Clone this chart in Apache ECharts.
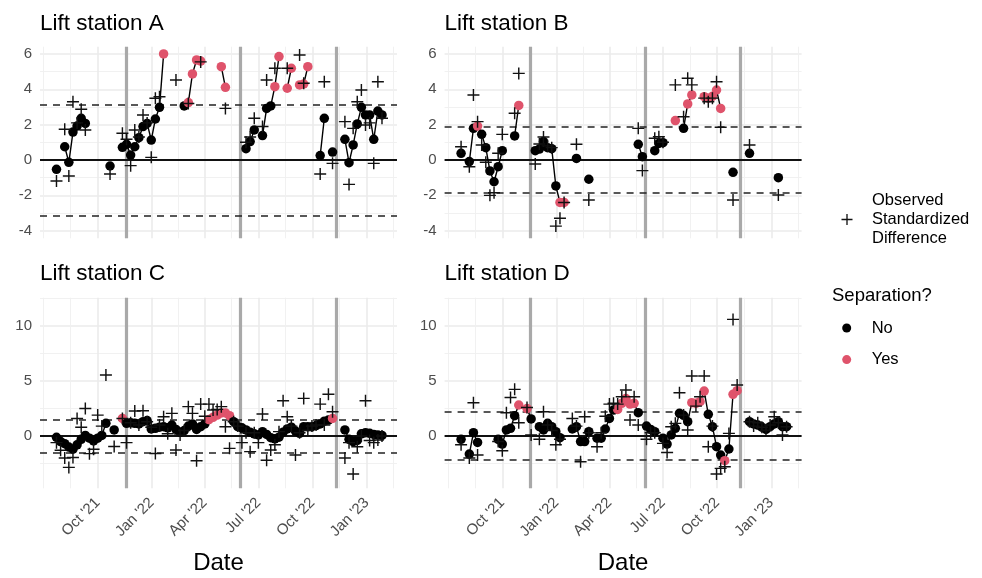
<!DOCTYPE html>
<html>
<head>
<meta charset="utf-8">
<script src="https://cdn.jsdelivr.net/npm/echarts@6/dist/echarts.min.js"></script>
<style>
  html, body { margin: 0; padding: 0; background: #fff; }
  #chart { width: 982px; height: 578px; }
</style>
</head>
<body>
<div id="chart"></div>
<script>
// weekly sampling dates shared by all stations
const weeks = [
  '2021-07-23','2021-07-30','2021-08-06','2021-08-13','2021-08-20','2021-08-27','2021-09-03','2021-09-10','2021-09-17','2021-09-24',
  '2021-10-01','2021-10-08','2021-10-15','2021-10-22','2021-10-29','2021-11-05','2021-11-12','2021-11-19','2021-11-26','2021-12-03',
  '2021-12-10','2021-12-17','2021-12-24','2021-12-31','2022-01-07','2022-01-14','2022-01-21','2022-01-28','2022-02-04','2022-02-11',
  '2022-02-18','2022-02-25','2022-03-04','2022-03-11','2022-03-18','2022-03-25','2022-04-01','2022-04-08','2022-04-15','2022-04-22',
  '2022-04-29','2022-05-06','2022-05-13','2022-05-20','2022-05-27','2022-06-03','2022-06-10','2022-06-17','2022-06-24','2022-07-01',
  '2022-07-08','2022-07-15','2022-07-22','2022-07-29','2022-08-05','2022-08-12','2022-08-19','2022-08-26','2022-09-02','2022-09-09',
  '2022-09-16','2022-09-23','2022-09-30','2022-10-07','2022-10-14','2022-10-21','2022-10-28','2022-11-04','2022-11-11','2022-11-18',
  '2022-11-25','2022-12-02','2022-12-09','2022-12-16','2022-12-23','2022-12-30','2023-01-06','2023-01-13','2023-01-20','2023-01-27'
]

const stations = ['Lift station A', 'Lift station B', 'Lift station C', 'Lift station D']

// modelled difference (dots) per week, null = no estimate
const estA = [
  -0.53, null, 0.75, -0.13, 1.58, 1.92, 2.36, 2.07, null, null,
  null, null, null, -0.34, null, null, 0.72, 0.89, 0.28, 0.75,
  1.26, 1.89, 2.07, 1.13, 2.32, 2.98, 6.0, null, null, null,
  null, 3.06, 3.25, 4.87, 5.66, 5.6, null, null, null, null,
  5.28, 4.11, null, null, null, null, 0.64, 1.04, 1.7, null,
  1.38, 2.92, 3.06, 4.15, 5.85, null, 4.06, 5.19, null, 4.25,
  4.3, 5.28, null, null, 0.25, 2.36, null, 0.45, null, null,
  1.17, -0.15, 0.85, 2.04, 2.98, 2.55, 2.55, 1.17, 2.77, 2.55
]
// observed standardized difference (plus signs)
const obsA = [
  -1.19, null, 1.74, -0.91, 3.3, 2.1, 2.87, 1.7, null, null,
  null, null, null, -0.79, null, null, 1.51, 1.17, -0.32, 1.7,
  1.3, 2.55, 2.1, 0.15, 3.49, 3.58, null, null, null, 4.53,
  null, null, 3.2, null, null, 5.55, null, null, null, null,
  null, 2.92, null, null, null, null, 1.0, 1.3, 2.36, null,
  1.89, 4.53, null, 5.19, null, null, 5.19, null, null, 5.94,
  4.34, null, null, null, -0.79, 4.43, null, -0.19, null, null,
  2.17, -1.38, 1.79, 3.3, 3.96, 1.98, 2.1, -0.19, 4.43, 2.36
]
const sepA = [26, 32, 33, 34, 35, 40, 41, 53, 54, 56, 57, 59, 60, 61]

const estB = [
  0.38, null, -0.09, 1.79, 1.92, 1.45, 0.7, -0.62, -1.23, -0.38,
  0.53, null, null, 1.36, 3.09, null, null, null, 0.53, 0.62,
  1.04, 0.7, 0.64, -1.47, -2.4, -2.4, null, null, 0.09, null,
  null, -1.09, null, null, null, null, null, null, null, null,
  null, null, null, 0.89, 0.19, null, null, 0.53, 0.94, 0.98,
  null, null, 2.23, null, 1.79, 3.17, 3.68, null, null, 3.58,
  3.5, 3.6, 3.96, 2.92, null, null, -0.7, null, null, null,
  0.38, null, null, null, null, null, null, -1.0, null, null
]
const obsB = [
  0.75, null, -0.38, 3.68, 2.17, 0.85, -0.13, -2.0, -1.85, 0.38,
  1.45, null, null, 2.64, 4.9, null, null, null, -0.23, 0.9,
  1.3, 0.8, 0.7, -3.74, -3.3, -2.4, null, null, 0.89, null,
  null, -2.26, null, null, null, null, null, null, null, null,
  null, null, null, 1.79, -0.6, null, null, 1.23, 1.32, 1.0,
  null, null, 4.25, null, 2.45, 4.62, 4.25, null, null, 3.5,
  3.3, 3.5, 4.43, 1.85, null, null, -2.26, null, null, null,
  0.85, null, null, null, null, null, null, -1.98, null, null
]
const sepB = [4, 14, 24, 25, 52, 55, 56, 59, 60, 61, 62, 63]

const estC = [
  -0.12, -0.5, -0.7, -1.0, -1.2, -0.8, -0.3, 0.05, -0.2, -0.45,
  -0.2, 0.05, 1.15, null, 0.55, null, 1.6, 1.15, 1.2, 1.15,
  1.1, 1.3, 1.4, 0.65, 0.7, 0.8, 0.85, 0.75, 1.0, 0.6,
  0.35, 0.5, 0.9, 1.1, 0.6, 0.85, 1.1, 1.5, 1.7, 1.9,
  2.1, 2.1, 1.85, 1.3, 0.85, 0.75, 0.55, 0.35, 0.2, 0.1,
  0.4, 0.15, -0.15, -0.25, -0.1, 0.35, 0.65, 0.8, 0.45, 0.25,
  0.85, 0.85, 0.85, 0.95, 1.1, 1.35, 1.45, 1.6, null, null,
  0.55, -0.3, -0.5, -0.4, 0.2, 0.3, 0.25, 0.15, 0.1, 0.05
]
const obsC = [
  -0.6, -1.3, -2.0, -2.85, -1.95, 1.6, 0.8, 2.5, -1.6, -1.2,
  1.9, 0.9, 5.55, null, -0.95, null, 1.6, -0.6, 1.2, 2.27,
  1.0, 2.3, 1.3, 0.8, -1.58, 1.0, 1.75, 0.2, 2.06, -1.27,
  0.1, 0.5, 2.67, 2.06, -2.24, 2.9, 1.8, 2.9, 2.36, 2.42,
  2.67, 0.85, -1.12, 1.3, 0.9, -0.6, 0.3, -1.42, 0.3, -0.6,
  2.0, -2.2, -1.27, -0.8, 0.4, 3.2, 1.75, 0.9, -1.73, 0.3,
  3.42, 0.5, 0.9, 1.0, 2.9, 1.0, 3.8, 2.2, null, null,
  -2.0, -0.6, -3.45, -0.97, 0.0, 3.2, -0.4, -0.6, -0.36, 0.0
]
const sepC = [16, 37, 38, 39, 40, 41, 42, 67]

const estD = [
  -0.3, null, -1.64, 0.3, -0.58, null, null, null, null, -0.3,
  -0.73, 0.55, 0.7, 1.85, 2.82, null, 2.5, 1.55, null, 0.85,
  0.55, 1.15, 0.85, 0.4, -0.15, null, null, 0.64, 0.85, -0.5,
  -0.5, 0.4, null, -0.2, -0.2, 0.64, 1.6, 2.36, 2.42, 2.97,
  3.4, 2.9, 2.97, 2.12, null, 0.9, 0.6, 0.4, null, -0.2,
  -0.73, 0.1, 0.7, 2.06, 1.88, 1.3, 3.03, 2.97, 3.12, 4.09,
  1.97, 0.85, -0.97, -1.73, -2.24, -1.18, 3.79, 4.12, null, null,
  1.3, 1.1, 1.0, 0.8, 0.6, 0.85, 1.1, 1.3, 0.85, 0.85
]
const obsD = [
  -0.8, null, -2.0, 3.03, -1.73, null, null, null, null, -0.5,
  -1.33, 2.12, 3.5, 4.24, 1.2, null, 2.6, 0.1, null, -0.3,
  2.2, 1.0, 0.5, -0.8, -0.3, null, null, 1.6, 0.9, -2.33,
  1.75, 0.3, null, -0.97, 0.3, 1.8, 2.9, 2.97, 2.9, 3.57,
  4.18, 1.45, 3.57, 1.0, null, -0.3, 0.3, 0.3, null, -0.67,
  -1.5, 0.85, 1.15, 3.94, 1.9, 0.55, 5.45, 2.72, 3.57, 5.45,
  -0.97, 0.9, -3.45, -2.94, -2.8, 0.24, 10.6, 4.64, null, null,
  1.3, 0.9, 1.2, 0.8, 0.5, 1.0, 1.75, 1.2, 0.1, 0.85
]
const sepD = [14, 16, 38, 39, 40, 41, 42, 56, 57, 58, 59, 64, 66, 67]

// control limits (dashed) and intervention dates (grey)
const limits = [3.15, 1.86, 1.5, 2.2]
const changeDates = ['2021-11-18', '2022-06-01', '2022-11-10']

// axes
const xRange = ['2021-06-25', '2023-02-21']
const xMajor = ['2021-10-01', '2022-01-01', '2022-04-01', '2022-07-01', '2022-10-01', '2023-01-01']
const xMinor = ['2021-07-01', '2021-08-16', '2021-11-16', '2022-02-15', '2022-05-16', '2022-08-16', '2022-11-16', '2023-02-15']
const yRangeTop = [-4.43, 6.41]
const yMajorTop = [-4, -2, 0, 2, 4, 6]
const yMinorTop = [-3, -1, 1, 3, 5]
const yRangeBottom = [-4.75, 12.57]
const yMajorBottom = [0, 5, 10]
const yMinorBottom = [-2.5, 2.5, 7.5, 12.5]

const OBS = 'Observed\nStandardized\nDifference'
const RED = '#DF536B'
const PLUS = 'path://M4.4,0H5.6V4.4H10V5.6H5.6V10H4.4V5.6H0V4.4H4.4Z'
const FONT = '"Liberation Sans", Arial, Helvetica, sans-serif'
const MON = ['Jan', 'Feb', 'Mar', 'Apr', 'May', 'Jun', 'Jul', 'Aug', 'Sep', 'Oct', 'Nov', 'Dec']

const ts = (d) => new Date(d + 'T00:00:00').getTime()
const fmtDate = (v) => {
  const d = new Date(v)
  return MON[d.getMonth()] + " '" + String(d.getFullYear()).slice(2)
}

const panels = [
  { est: estA, obs: obsA, sep: sepA },
  { est: estB, obs: obsB, sep: sepB },
  { est: estC, obs: obsC, sep: sepC },
  { est: estD, obs: obsD, sep: sepD },
]

const grids = [
  { left: 40, top: 46.7, width: 357, height: 191.6 },
  { left: 444.6, top: 46.7, width: 357, height: 191.6 },
  { left: 40, top: 297.7, width: 357, height: 190.6 },
  { left: 444.6, top: 297.7, width: 357, height: 190.6 },
]

const xMin = ts(xRange[0])
const xMax = ts(xRange[1]) + 43200000
const xAxes = []
const yAxes = []
const series = []

panels.forEach((p, i) => {
  const bottom = i >= 2
  const yr = bottom ? yRangeBottom : yRangeTop
  // major grid + labels
  xAxes.push({
    type: 'value', gridIndex: i, min: xMin, max: xMax,
    axisLine: { show: false },
    axisTick: { show: false, customValues: xMajor.map(ts) },
    axisLabel: {
      show: bottom, customValues: xMajor.map(ts), formatter: fmtDate,
      rotate: 45, margin: 12, fontSize: 15, color: '#4D4D4D', fontFamily: FONT,
    },
    splitLine: { show: true, lineStyle: { color: '#EBEBEB', width: 1.6 } },
    name: bottom ? 'Date' : '', nameLocation: 'middle', nameGap: 63,
    nameTextStyle: { fontSize: 24, color: '#000', fontFamily: FONT },
  })
  // minor grid
  xAxes.push({
    type: 'value', gridIndex: i, position: 'bottom', min: xMin, max: xMax,
    axisLine: { show: false },
    axisTick: { show: false, customValues: xMinor.map(ts) },
    axisLabel: { show: false },
    splitLine: { show: true, lineStyle: { color: '#EFEFEF', width: 0.9 } },
  })
  yAxes.push({
    type: 'value', gridIndex: i, min: yr[0], max: yr[1],
    axisLine: { show: false },
    axisTick: { show: false, customValues: bottom ? yMajorBottom : yMajorTop },
    axisLabel: {
      customValues: bottom ? yMajorBottom : yMajorTop,
      fontSize: 15, color: '#4D4D4D', margin: 8, fontFamily: FONT,
    },
    splitLine: { show: true, lineStyle: { color: '#EBEBEB', width: 1.6 } },
  })
  yAxes.push({
    type: 'value', gridIndex: i, position: 'left', min: yr[0], max: yr[1],
    axisLine: { show: false },
    axisTick: { show: false, customValues: bottom ? yMinorBottom : yMinorTop },
    axisLabel: { show: false },
    splitLine: { show: true, lineStyle: { color: '#EFEFEF', width: 0.9 } },
  })

  const lim = limits[i]
  series.push({
    type: 'line',
    name: 'est' + i,
    xAxisIndex: 2 * i,
    yAxisIndex: 2 * i,
    data: weeks.map((w, k) =>
      p.est[k] == null
        ? [ts(w), '-']
        : { value: [ts(w), p.est[k]], itemStyle: { color: p.sep.includes(k) ? RED : '#000' } }
    ),
    symbol: 'circle',
    symbolSize: 9.5,
    showSymbol: true,
    showAllSymbol: true,
    connectNulls: false,
    lineStyle: { color: '#000', width: 1.4 },
    itemStyle: { color: '#000', opacity: 1 },
    z: 3,
    markLine: {
      silent: true,
      z: 1,
      symbol: ['none', 'none'],
      label: { show: false },
      animation: false,
      data: [
        ...changeDates.map((d) => ({ xAxis: ts(d), lineStyle: { color: '#A9A9A9', width: 3.2, type: 'solid' } })),
        { yAxis: lim, lineStyle: { color: '#222', width: 1.7, type: [7, 6] } },
        { yAxis: -lim, lineStyle: { color: '#222', width: 1.7, type: [7, 6] } },
        { yAxis: 0, lineStyle: { color: '#111', width: 1.8, type: 'solid' } },
      ],
    },
  })
  series.push({
    type: 'scatter',
    name: OBS,
    xAxisIndex: 2 * i,
    yAxisIndex: 2 * i,
    data: weeks.map((w, k) => [ts(w), p.obs[k]]).filter((d) => d[1] != null),
    symbol: PLUS,
    symbolSize: 12,
    itemStyle: { color: '#111', opacity: 1 },
    z: 4,
  })
})

// legend-only series
series.push({ type: 'scatter', name: 'No', data: [], itemStyle: { color: '#000', opacity: 1 } })
series.push({ type: 'scatter', name: 'Yes', data: [], itemStyle: { color: RED, opacity: 1 } })

const titles = stations.map((s, i) => ({
  text: s,
  left: grids[i].left,
  top: i < 2 ? 12 : 262,
  padding: 0,
  textStyle: { fontSize: 22.5, fontWeight: 'normal', color: '#000', fontFamily: FONT },
}))
titles.push({
  text: 'Separation?',
  left: 832,
  top: 286,
  padding: 0,
  textStyle: { fontSize: 18.5, fontWeight: 'normal', color: '#000', fontFamily: FONT },
})

const chart = echarts.init(document.getElementById('chart'))
chart.setOption({
  animation: false,
  backgroundColor: '#fff',
  textStyle: { fontFamily: FONT },
  title: titles,
  grid: grids.map((g) => ({ ...g, outerBoundsMode: 'none' })),
  xAxis: xAxes,
  yAxis: yAxes,
  legend: [
    {
      selectedMode: false, orient: 'vertical', left: 841.5, top: 191, padding: 0,
      itemWidth: 40, itemHeight: 11,
      data: [{ name: OBS, icon: PLUS }],
      textStyle: { fontSize: 16.5, lineHeight: 19, color: '#000', fontFamily: FONT },
    },
    {
      selectedMode: false, orient: 'vertical', left: 842.2, top: 318, padding: 0,
      itemWidth: 40, itemHeight: 9, itemGap: 11.6,
      data: [{ name: 'No', icon: 'circle' }, { name: 'Yes', icon: 'circle' }],
      textStyle: { fontSize: 16.5, lineHeight: 20, color: '#000', fontFamily: FONT },
    },
  ],
  series: series,
})
</script>
</body>
</html>
